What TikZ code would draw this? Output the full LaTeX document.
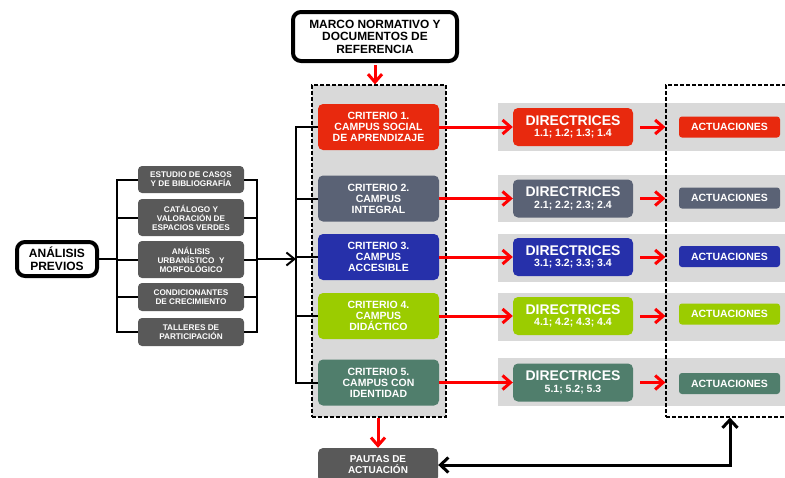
\documentclass[tikz,border=0pt]{standalone}
\usepackage{fontspec}
\setmainfont{Liberation Sans}
\usepackage{xcolor}
\usetikzlibrary{arrows.meta}

\definecolor{critred}{RGB}{232,41,14}
\definecolor{critslate}{RGB}{90,98,117}
\definecolor{critblue}{RGB}{38,48,170}
\definecolor{critgreen}{RGB}{155,204,0}
\definecolor{critteal}{RGB}{80,126,108}
\definecolor{boxgray}{RGB}{89,89,89}
\definecolor{bandgray}{RGB}{217,217,217}
\definecolor{arrowred}{RGB}{255,0,0}

\tikzset{
  crit/.style={rounded corners=5pt, minimum width=121pt, minimum height=46pt, inner sep=0pt,
    text=white, align=center, font=\bfseries\fontsize{10.5}{11}\selectfont},
  dirbox/.style={rounded corners=5pt, minimum width=120pt, minimum height=38pt, inner sep=0pt,
    text=white, align=center, font=\bfseries\fontsize{10.5}{11.5}\selectfont},
  actbox/.style={rounded corners=3pt, minimum width=101pt, minimum height=21pt, inner sep=0pt,
    text=white, font=\bfseries\fontsize{10.5}{11}\selectfont},
  estudio/.style={fill=boxgray, rounded corners=4pt, minimum width=106pt, inner sep=0pt,
    text=white, align=center, font=\bfseries\fontsize{8.2}{9}\selectfont},
  thickbox/.style={draw, line width=4pt, rounded corners=8pt, fill=white, inner sep=0pt, align=center},
  frame/.style={draw, dash pattern=on 4pt off 2pt, line width=1.2pt, minimum width=134pt,
    minimum height=332pt, inner sep=0pt},
  conn/.style={line width=2pt},
  redarrow/.style={draw=arrowred, line width=3pt, -{Straight Barb[length=8pt,width=14pt]}},
  blkarrow/.style={line width=3pt, {Straight Barb[length=8pt,width=15pt]}-{Straight Barb[length=8pt,width=15pt]}},
}

\newcommand{\dirtext}[1]{{\fontsize{14}{15}\selectfont DIRECTRICES}\\#1}

\begin{document}
\begin{tikzpicture}[x=1pt, y=-1pt]
  \useasboundingbox (0,0) rectangle (785,477);
  \clip (0,0) rectangle (785,477);

  % bandas grises
  \fill[bandgray] (498,103) rectangle (790,151);
  \fill[bandgray] (498,175) rectangle (790,222);
  \fill[bandgray] (498,234) rectangle (790,282);
  \fill[bandgray] (498,293) rectangle (790,341);
  \fill[bandgray] (498,358) rectangle (790,406);

  \node[frame] (actframe) at (733,251) {};
  \node[frame, fill=bandgray] (critframe) at (379,251) {};

  \node[thickbox, minimum width=164pt, minimum height=49pt,
    font=\bfseries\fontsize{11.9}{12.5}\selectfont] (marco) at (375,36.5)
    {MARCO NORMATIVO Y\\DOCUMENTOS DE\\REFERENCIA};

  % criterios
  \node[crit, fill=critred] (c1) at (378.5,127) {CRITERIO 1.\\CAMPUS SOCIAL\\DE APRENDIZAJE};
  \node[crit, fill=critslate] (c2) at (378.5,198.5) {CRITERIO 2.\\CAMPUS\\INTEGRAL};
  \node[crit, fill=critblue] (c3) at (378.5,257) {CRITERIO 3.\\CAMPUS\\ACCESIBLE};
  \node[crit, fill=critgreen] (c4) at (378.5,316) {CRITERIO 4.\\CAMPUS\\DIDÁCTICO};
  \node[crit, fill=critteal] (c5) at (378.5,382.5) {CRITERIO 5.\\CAMPUS CON\\IDENTIDAD};

  % directrices
  \node[dirbox, fill=critred] (d1) at (573,127) {\dirtext{1.1; 1.2; 1.3; 1.4}};
  \node[dirbox, fill=critslate] (d2) at (573,198.5) {\dirtext{2.1; 2.2; 2.3; 2.4}};
  \node[dirbox, fill=critblue] (d3) at (573,257) {\dirtext{3.1; 3.2; 3.3; 3.4}};
  \node[dirbox, fill=critgreen] (d4) at (573,316) {\dirtext{4.1; 4.2; 4.3; 4.4}};
  \node[dirbox, fill=critteal] (d5) at (573,382.5) {\dirtext{5.1; 5.2; 5.3}};

  % actuaciones
  \node[actbox, fill=critred] (a1) at (729.5,127) {ACTUACIONES};
  \node[actbox, fill=critslate] (a2) at (729.5,198) {ACTUACIONES};
  \node[actbox, fill=critblue] (a3) at (729.5,256.5) {ACTUACIONES};
  \node[actbox, fill=critgreen] (a4) at (729.5,314) {ACTUACIONES};
  \node[actbox, fill=critteal] (a5) at (729.5,383.5) {ACTUACIONES};

  \node[fill=boxgray, rounded corners=5pt, minimum width=120pt, minimum height=34pt, inner sep=0pt,
    text=white, align=center, font=\bfseries\fontsize{10}{11}\selectfont] (pautas) at (378,465)
    {PAUTAS DE\\ACTUACIÓN};

  % analisis previos
  \node[thickbox, minimum width=80pt, minimum height=34pt,
    font=\bfseries\fontsize{12}{13}\selectfont] (previos) at (57,259) {ANÁLISIS\\PREVIOS};
  \node[estudio, minimum height=27pt] (e1) at (191,179.5) {ESTUDIO DE CASOS\\Y DE BIBLIOGRAFÍA};
  \node[estudio, minimum height=37pt] (e2) at (191,217.5) {CATÁLOGO Y\\VALORACIÓN DE\\ESPACIOS VERDES};
  \node[estudio, minimum height=37pt] (e3) at (191,259.5) {ANÁLISIS\\URBANÍSTICO\ \ Y\\MORFOLÓGICO};
  \node[estudio, minimum height=28pt] (e4) at (191,297) {CONDICIONANTES\\DE CRECIMIENTO};
  \node[estudio, minimum height=28pt] (e5) at (191,332) {TALLERES DE\\PARTICIPACIÓN};

  \coordinate (lb) at (117,259);
  \coordinate (rb) at (257,259);
  \coordinate (cv) at (296,259);
  \coordinate (turn) at (730,465);

  % conexiones negras
  \draw[conn] (previos.east) -- (lb);
  \draw[conn] (e1.west) -| (lb) |- (e5.west);
  \draw[conn] (e2.west) -- (e2.west -| lb);
  \draw[conn] (e3.west) -- (e3.west -| lb);
  \draw[conn] (e4.west) -- (e4.west -| lb);
  \draw[conn] (e1.east) -| (rb) |- (e5.east);
  \draw[conn] (e2.east) -- (e2.east -| rb);
  \draw[conn] (e3.east) -- (e3.east -| rb);
  \draw[conn] (e4.east) -- (e4.east -| rb);
  \draw[conn, -{Straight Barb[length=8pt,width=13pt]}] (rb) -- (cv);
  \draw[conn] (c1.west) -| (cv) |- (c5.west);
  \draw[conn] (c2.west) -- (c2.west -| cv);
  \draw[conn] (c3.west) -- (c3.west -| cv);
  \draw[conn] (c4.west) -- (c4.west -| cv);

  % flechas rojas
  \draw[redarrow, shorten <=2pt] (marco.south) -- (marco.south |- critframe.north);
  \draw[redarrow] (pautas.north |- critframe.south) -- (pautas.north);
  \draw[redarrow] (c1.east) -- (d1.west);
  \draw[redarrow] (c2.east) -- (d2.west);
  \draw[redarrow] (c3.east) -- (d3.west);
  \draw[redarrow] (c4.east) -- (d4.west);
  \draw[redarrow] (c5.east) -- (d5.west);
  \draw[redarrow, shorten <=7pt] (d1.east) -- (d1.east -| actframe.west);
  \draw[redarrow, shorten <=7pt] (d2.east) -- (d2.east -| actframe.west);
  \draw[redarrow, shorten <=7pt] (d3.east) -- (d3.east -| actframe.west);
  \draw[redarrow, shorten <=7pt] (d4.east) -- (d4.east -| actframe.west);
  \draw[redarrow, shorten <=7pt] (d5.east) -- (d5.east -| actframe.west);

  \draw[blkarrow] (pautas.east) -- (turn) -- (turn |- actframe.south);
\end{tikzpicture}
\end{document}
